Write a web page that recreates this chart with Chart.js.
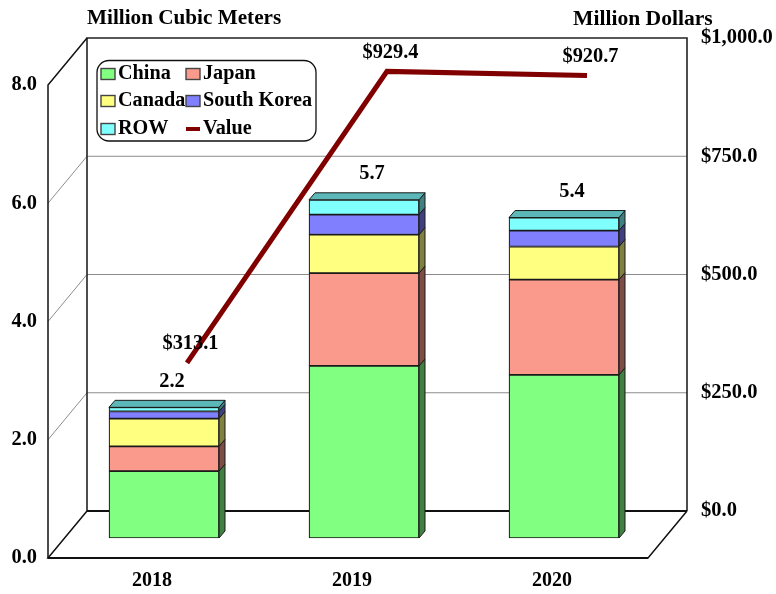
<!DOCTYPE html>
<html>
<head>
<meta charset="utf-8">
<script src="https://cdn.jsdelivr.net/npm/chart.js@4"></script>
<style>html,body{margin:0;padding:0;background:#fff}canvas{display:block}</style>
</head>
<body>
<canvas id="c" width="776" height="594"></canvas>
<script>
const categories = ['2018', '2019', '2020'];
const china = [1.13, 2.91, 2.76];
const japan = [0.42, 1.57, 1.61];
const canada = [0.47, 0.65, 0.56];
const southKorea = [0.12, 0.34, 0.27];
const row = [0.07, 0.25, 0.22];
const value = [313.1, 929.4, 920.7];
const totals = [2.2, 5.7, 5.4];
const volumeTicks = [0, 2, 4, 6, 8];
const dollarTicks = [0, 250, 500, 750, 1000];
const leftTitle = 'Million Cubic Meters';
const rightTitle = 'Million Dollars';

const FONT = '"Liberation Serif"';
const font = s => ({ family: FONT, size: s, weight: 'bold' });
const AREA = { left: 48, right: 687, top: 38, bottom: 558 };
const DEPTH = { x: 39, y: 47 };
const BAR_DEPTH = { x: 6, y: 7 };
const BAR_W = 110;
const YEAR_PX = 200, UNIT_PX = 59.125;
const xRange = c => ({ min: 2018 - (c - AREA.left) / YEAR_PX, max: 2018 + (AREA.right - c) / YEAR_PX, bounds: 'data', offset: false, grid: { display: false, offset: false, drawTicks: false } });
const hidden = { display: false };
const dark = (rgb, k) => 'rgb(' + rgb.map(v => Math.round(v * k)).join(',') + ')';

const barSeries = [
  ['China', china, [128, 255, 128]],
  ['Japan', japan, [250, 154, 140]],
  ['Canada', canada, [255, 255, 128]],
  ['South Korea', southKorea, [128, 128, 255]],
  ['ROW', row, [128, 255, 255]]
];

const datasets = barSeries.map(([label, data, rgb]) => ({
  type: 'bar', label, data, rgb,
  xAxisID: 'xb', yAxisID: 'yb', stack: 's', order: 2,
  backgroundColor: 'rgb(' + rgb.join(',') + ')',
  borderColor: '#1a1a1a', borderWidth: 1.2, borderSkipped: false, barThickness: BAR_W
}));
datasets.push({
  type: 'line', label: 'Value', data: value,
  xAxisID: 'xl', yAxisID: 'y1', order: 1,
  borderColor: '#800000', borderWidth: 5, pointRadius: 0,
  tension: 0, borderCapStyle: 'butt', borderJoinStyle: 'miter', fill: false
});

const scene = {
  id: 'scene',
  beforeDatasetsDraw(chart) {
    const c = chart.ctx, y1 = chart.scales.y1, y = chart.scales.y;
    const backL = AREA.left + DEPTH.x, backR = AREA.right;
    const seg = (pts, w, col) => {
      c.beginPath();
      pts.forEach((p, i) => i ? c.lineTo(p[0], p[1]) : c.moveTo(p[0], p[1]));
      c.lineWidth = w; c.strokeStyle = col; c.stroke();
    };
    c.save();
    dollarTicks.slice(1, -1).forEach(v => {
      const p = y1.getPixelForValue(v);
      seg([[AREA.left, p + DEPTH.y], [backL, p], [backR, p]], 1, '#8c8c8c');
    });
    const top = y1.getPixelForValue(1000), floor = y1.getPixelForValue(0);
    const fTop = y.getPixelForValue(8), fBot = y.getPixelForValue(0);
    seg([[backL, floor], [backL, top], [backR, top], [backR, floor]], 1.6, '#222');
    seg([[backL, floor], [backR, floor]], 2, '#111');
    seg([[AREA.left, fBot], [AREA.left, fTop], [backL, top]], 1.5, '#111');
    seg([[backL, floor], [AREA.left, fBot], [AREA.right - DEPTH.x, fBot], [backR, floor]], 1.5, '#111');
    seg([[AREA.left, fBot], [AREA.right - DEPTH.x, fBot]], 2, '#111');

    // 3D faces of every bar segment, from the element geometry
    const last = barSeries.length - 1;
    barSeries.forEach((s, d) => {
      chart.getDatasetMeta(d).data.forEach(el => {
        const p = el.getProps(['x', 'y', 'base', 'width']);
        const r = p.x + p.width / 2, l = p.x - p.width / 2, t = p.y, b = p.base;
        const dx = BAR_DEPTH.x, dy = BAR_DEPTH.y;
        c.beginPath();
        c.moveTo(r, b); c.lineTo(r + dx, b - dy); c.lineTo(r + dx, t - dy); c.lineTo(r, t); c.closePath();
        c.fillStyle = dark(s[2], 0.5); c.fill();
        c.lineWidth = 1; c.strokeStyle = '#1a1a1a'; c.stroke();
        if (d === last) {
          c.beginPath();
          c.moveTo(l, t); c.lineTo(l + dx, t - dy); c.lineTo(r + dx, t - dy); c.lineTo(r, t); c.closePath();
          c.fillStyle = dark(s[2], 0.72); c.fill();
          c.stroke();
        }
      });
    });
    c.restore();
  },
  afterDatasetsDraw(chart) {
    const c = chart.ctx;
    c.save();
    c.fillStyle = '#000';
    c.textBaseline = 'middle';
    c.textAlign = 'center';
    c.font = 'bold 20.4px ' + FONT;
    chart.getDatasetMeta(barSeries.length - 1).data.forEach((el, i) => {
      c.fillText(totals[i].toFixed(1), el.x + 8, el.y - 26);
    });
    chart.getDatasetMeta(barSeries.length).data.forEach((el, i) => {
      c.fillText('$' + value[i].toFixed(1), el.x + 3.5, el.y - 19);
    });
    c.textAlign = 'left';
    c.font = 'bold 21.2px ' + FONT;
    c.fillText(leftTitle, 87, 19);
    c.font = 'bold 21.6px ' + FONT;
    c.fillText(rightTitle, 573, 19);

    // legend panel
    c.beginPath();
    c.roundRect(97, 60.5, 219, 80.5, 12);
    c.fillStyle = '#fff'; c.fill();
    c.lineWidth = 1.3; c.strokeStyle = '#111'; c.stroke();
    const cols = [101, 186], rows = [68.5, 95.5, 123.5];
    c.font = 'bold 20.2px ' + FONT;
    chart.data.datasets.forEach((ds, i) => {
      const x = cols[i % 2], y = rows[Math.floor(i / 2)];
      if (ds.type === 'bar') {
        c.fillStyle = ds.backgroundColor; c.fillRect(x, y, 14, 11);
        c.lineWidth = 1.4; c.strokeStyle = '#444'; c.strokeRect(x, y, 14, 11);
      } else {
        c.fillStyle = ds.borderColor; c.fillRect(x, y + 3.5, 14, 4);
      }
      c.fillStyle = '#000';
      c.fillText(ds.label, x + 17, y + 5.5);
    });
    c.restore();
  }
};

new Chart(document.getElementById('c'), {
  type: 'bar',
  data: { labels: categories, datasets },
  plugins: [scene],
  options: {
    responsive: false,
    animation: false,
    layout: { padding: { top: AREA.top, left: 0, right: 0, bottom: 0 } },
    plugins: { legend: hidden, title: hidden, tooltip: { enabled: false } },
    scales: {
      x: {
        type: 'linear', position: 'bottom', ...xRange(152),
        border: { display: false },
        afterBuildTicks: s => { s.ticks = categories.map(v => ({ value: +v })); },
        afterFit: s => { s.height = 594 - AREA.bottom; },
        ticks: { font: font(20), color: '#000', padding: 11, maxRotation: 0, autoSkip: false, callback: v => String(v) }
      },
      // Chart.js reserves one slot per x axis in use (bars + line), so a bar
      // sits half a bar left of its tick: the range is shifted to compensate.
      xb: { type: 'linear', display: false, stacked: true, ...xRange(164 + BAR_W / 2) },
      xl: { type: 'linear', display: false, ...xRange(187) },
      y: {
        type: 'linear', position: 'left', bounds: 'data',
        min: 0, max: (AREA.bottom - AREA.top) / UNIT_PX,
        grid: { display: false, drawTicks: false }, border: { display: false },
        afterBuildTicks: s => { s.ticks = volumeTicks.map(v => ({ value: v })); },
        afterFit: s => { s.width = AREA.left; },
        ticks: { font: font(20.4), color: '#000', padding: 11, autoSkip: false, callback: v => v.toFixed(1) }
      },
      yb: {
        type: 'linear', display: false, stacked: true, bounds: 'data',
        min: -20 / UNIT_PX, max: (AREA.bottom - 20 - AREA.top) / UNIT_PX
      },
      y1: {
        type: 'linear', position: 'right', bounds: 'data',
        min: -DEPTH.y * 1000 / 473, max: 1000,
        grid: { display: false, drawTicks: false }, border: { display: false },
        afterBuildTicks: s => { s.ticks = dollarTicks.map(v => ({ value: v })); },
        afterFit: s => { s.width = 776 - AREA.right; },
        ticks: {
          font: font(20.5), color: '#000', padding: 14, autoSkip: false,
          callback: v => '$' + v.toLocaleString('en-US', { minimumFractionDigits: 1, maximumFractionDigits: 1 })
        }
      }
    }
  }
});
</script>
</body>
</html>
